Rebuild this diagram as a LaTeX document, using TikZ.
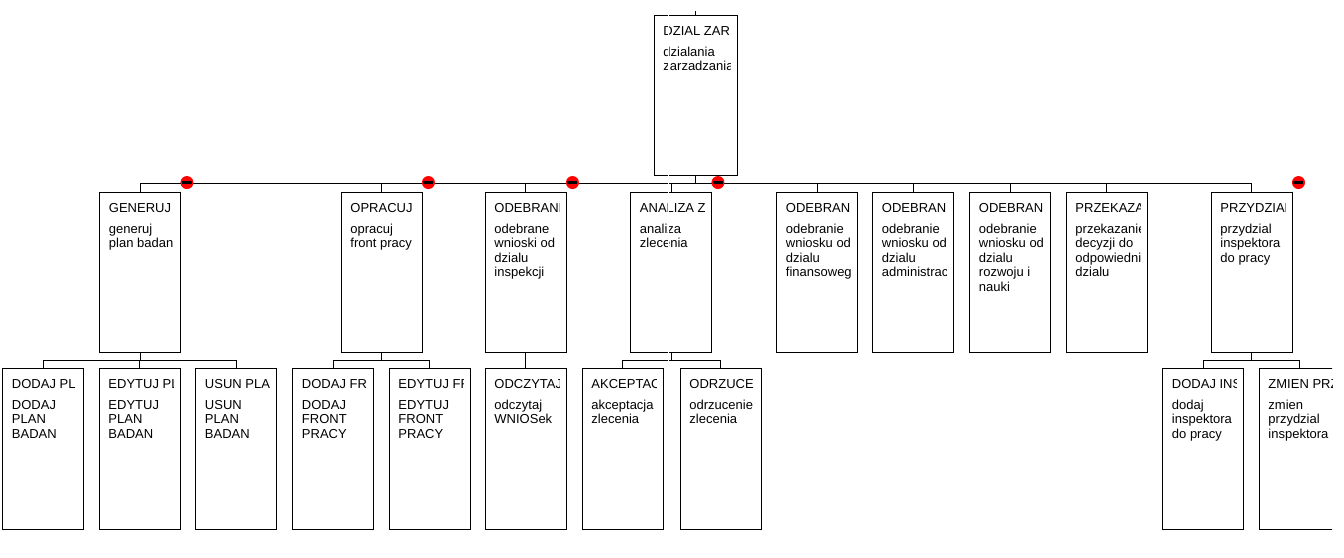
\documentclass[tikz,border=0pt]{standalone}
\usepackage{fontspec}
\setmainfont{Liberation Sans}

\newcommand\unitfont{\fontsize{13pt}{14.5pt}\selectfont}

\begin{document}
\begin{tikzpicture}
		[
			x=1pt, y=-1pt,
			unit/.style 2 args={draw, rectangle, line width=0.9pt, minimum width=81pt, minimum height=160pt, inner sep=0pt,
				path picture={
					\clip (path picture bounding box.north west) rectangle ([xshift=-7pt]path picture bounding box.south east);
					\node[anchor=base west, inner sep=0pt, font=\unitfont] at ([xshift=9pt,yshift=-20pt]path picture bounding box.north west) {\parbox[t]{160pt}{#1\\[6.5pt]#2}};
				}},
			link/.style={line width=0.9pt},
			fold/.style={circle, fill=red, minimum size=13pt, inner sep=0pt,
				path picture={\fill[black] (path picture bounding box.center) +(-5pt,-1.5pt) rectangle +(5pt,1.5pt);}},
		]

		\useasboundingbox (0,0) rectangle (1344,557);
		\clip (0,11) rectangle (1332,557);

		% Nodes
		\node[unit={DZIAL ZAR}{dzialania\\zarzadzania}, minimum width=83pt] (root) at (695.5,95) {};
		\coordinate (top) at (695.5,0);

		\foreach \name/\x/\head/\lines in
		{
			gen/140/GENERUJ/{generuj\\plan badan},
			opr/381.5/OPRACUJ/{opracuj\\front pracy},
			odi/525.5/ODEBRANI/{odebrane\\wnioski od\\dzialu\\inspekcji},
			ana/671/ANALIZA Z/{analiza\\zlecenia},
			odf/817/ODEBRAN/{odebranie\\wniosku od\\dzialu\\finansoweg},
			oda/913/ODEBRAN/{odebranie\\wniosku od\\dzialu\\administrac},
			odr/1010/ODEBRAN/{odebranie\\wniosku od\\dzialu\\rozwoju i\\nauki},
			prz/1106.5/PRZEKAZA/{przekazanie\\decyzji do\\odpowiedni\\dzialu},
			prd/1251.5/PRZYDZIAL/{przydzial\\inspektora\\do pracy}
		}
			\node[unit={\head}{\lines}] (\name) at (\x,272) {};

		\foreach \name/\x/\head/\lines in
		{
			dpl/43/DODAJ PL/{DODAJ\\PLAN\\BADAN},
			epl/139.5/EDYTUJ PL/{EDYTUJ\\PLAN\\BADAN},
			upl/236/USUN PLA/{USUN\\PLAN\\BADAN},
			dfr/333/DODAJ FR/{DODAJ\\FRONT\\PRACY},
			efr/429.5/EDYTUJ FR/{EDYTUJ\\FRONT\\PRACY},
			odc/525.5/ODCZYTAJ/{odczytaj\\WNIOSek},
			akc/622.5/AKCEPTAC/{akceptacja\\zlecenia},
			odz/720.5/ODRZUCE/{odrzucenie\\zlecenia},
			din/1203/DODAJ INS/{dodaj\\inspektora\\do pracy},
			zpr/1299.5/ZMIEN PRZ/{zmien\\przydzial\\inspektora}
		}
			\node[unit={\head}{\lines}, minimum height=161pt] (\name) at (\x,448.5) {};

		% Edges
		\draw[link] (root.north) -- (top);
		\foreach \u/\v in
		{
			root/gen, root/opr, root/odi, root/ana, root/odf,
			root/oda, root/odr, root/prz, root/prd,
			gen/dpl, gen/epl, gen/upl,
			opr/dfr, opr/efr,
			odi/odc,
			ana/akc, ana/odz,
			prd/din, prd/zpr}
			\draw[link] (\u.south) -- ++(0,8) -| (\v.north);

		% Fold marks
		\foreach \name in {gen, opr, odi, ana, prd}
			\node[fold] (\name-fold) at ([xshift=6pt,yshift=9pt]\name.north east) {};

		\draw[white, line width=0.8pt] (668,0) -- (668,365);

		\end{tikzpicture}
\end{document}
